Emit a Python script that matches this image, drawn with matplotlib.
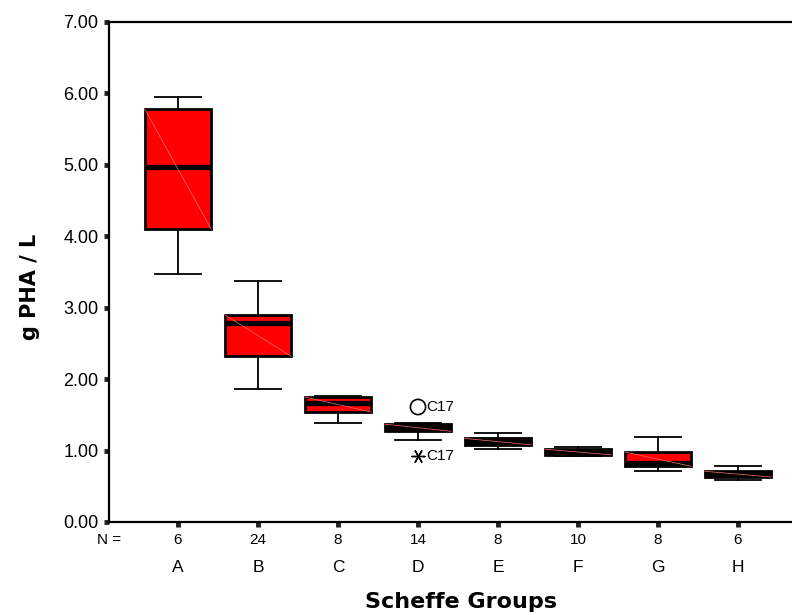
import matplotlib
matplotlib.use("Agg")
import matplotlib.pyplot as plt

# Scheffe group boxplot values
groups = ["A", "B", "C", "D", "E", "F", "G", "H"]
n_counts = [6, 24, 8, 14, 8, 10, 8, 6]
whis_lo = [3.47, 1.86, 1.38, 1.15, 1.02, 0.92, 0.71, 0.59]
q1 = [4.10, 2.32, 1.54, 1.27, 1.08, 0.94, 0.78, 0.63]
median = [4.97, 2.78, 1.66, 1.33, 1.12, 0.98, 0.83, 0.67]
q3 = [5.78, 2.90, 1.75, 1.37, 1.17, 1.02, 0.98, 0.71]
whis_hi = [5.95, 3.38, 1.76, 1.38, 1.24, 1.05, 1.19, 0.78]

# group D outliers
outlier_x = [4]
outlier_y = [1.61]
extreme_x = [4]
extreme_y = [0.92]
case_label = "C17"

plt.rcParams["font.family"] = ["Liberation Sans", "DejaVu Sans"]

fig = plt.figure(figsize=(7.92, 6.15), dpi=100)
ax = fig.add_axes([109 / 792, 93 / 615, 698 / 792, 500 / 615])

positions = list(range(1, len(groups) + 1))
stats = []
for i in range(len(groups)):
    stats.append({"med": median[i], "q1": q1[i], "q3": q3[i],
                  "whislo": whis_lo[i], "whishi": whis_hi[i], "fliers": []})

width = 0.83
ax.bxp(stats, positions=positions, widths=width, capwidths=0.58,
       showfliers=False, patch_artist=True,
       boxprops=dict(facecolor="#ff0000", edgecolor="black", linewidth=2.0),
       medianprops=dict(color="black", linewidth=3.8, solid_capstyle="butt"),
       whiskerprops=dict(color="black", linewidth=1.3),
       capprops=dict(color="black", linewidth=1.3))

# faint diagonal shading artefact inside boxes
for p, lo, hi in zip(positions, q1, q3):
    ax.plot([p - width / 2, p + width / 2], [hi, lo], color="#ff7070",
            linewidth=0.5, zorder=2.5)

ax.scatter(outlier_x, outlier_y, s=120, facecolors="none", edgecolors="black",
           linewidths=1.2, zorder=4)
ax.scatter(extreme_x, extreme_y, s=90, marker=(6, 2, 90), color="black",
           linewidths=1.0, zorder=4)
for x, y in zip(outlier_x + extreme_x, outlier_y + extreme_y):
    ax.annotate(case_label, (x, y), xytext=(6, 0), textcoords="offset points",
                va="center", ha="left", fontsize=11)

ax.set_xlim(0.1375, 8.8625)
ax.set_ylim(0, 7)
ax.set_yticks(range(0, 8))
ax.set_yticklabels([f"{v:.2f}" for v in range(0, 8)], fontsize=13)
ax.set_xticks(positions)
ax.set_xticklabels([])
ax.tick_params(axis="both", length=3.5, width=3.5, color="#222222", pad=4)
ax.tick_params(axis="x", pad=0)

for side in ["left", "bottom", "top"]:
    ax.spines[side].set_linewidth(1.6)
ax.spines["right"].set_visible(False)

# N counts row and group letters
ax.annotate("N =", (0, 0), xycoords="axes fraction", xytext=(0, -13),
            textcoords="offset points", ha="center", va="center", fontsize=11)
for p, n, g in zip(positions, n_counts, groups):
    ax.annotate(str(n), (p, 0), xycoords=("data", "axes fraction"),
                xytext=(0, -13), textcoords="offset points",
                ha="center", va="center", fontsize=11)
    ax.annotate(g, (p, 0), xycoords=("data", "axes fraction"),
                xytext=(0, -33), textcoords="offset points",
                ha="center", va="center", fontsize=12.5)

fig.text(30 / 792, 1 - 287 / 615, "g PHA / L", rotation=90, ha="center",
         va="center", fontsize=15, fontweight="bold", family="DejaVu Sans")
fig.text(461 / 792, 1 - 602 / 615, "Scheffe Groups", ha="center", va="center",
         fontsize=16, fontweight="bold", family="DejaVu Sans")

fig.savefig("out.png", dpi=100)
